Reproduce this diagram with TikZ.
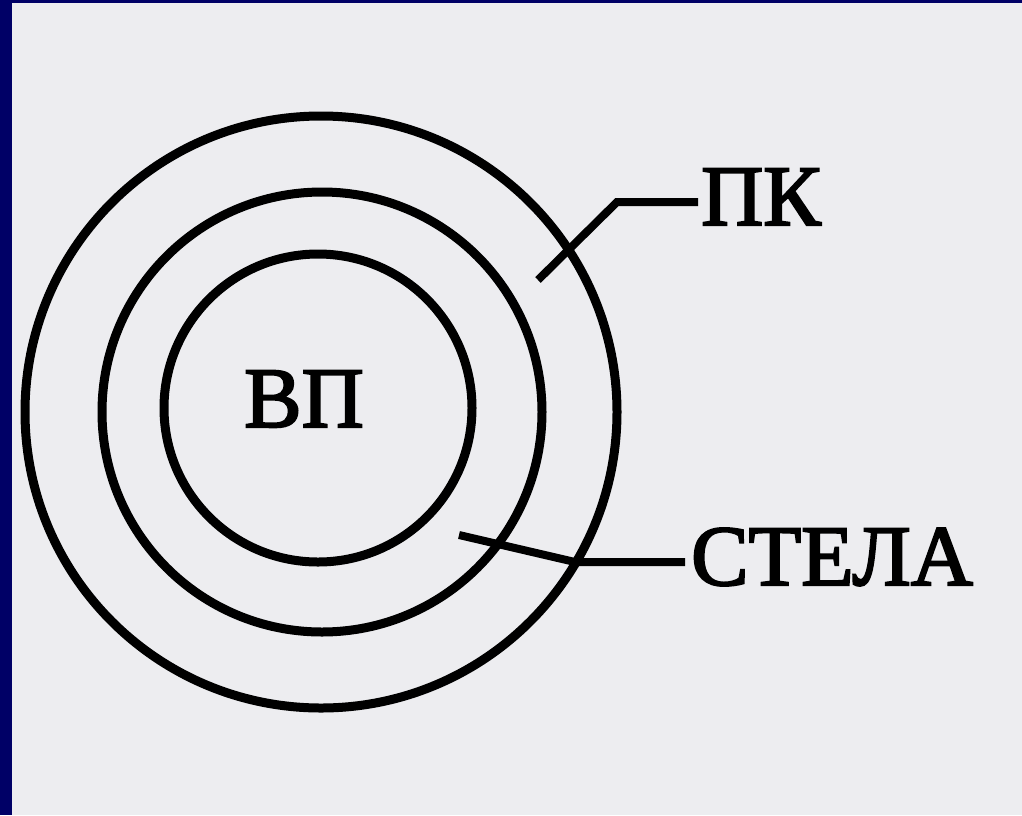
\documentclass[tikz,border=0pt]{standalone}
\usepackage{fontspec}
\setmainfont{Liberation Serif}
\newfontfamily\labelfont[FakeBold=2.5]{Liberation Serif}
\definecolor{frame}{HTML}{000066}
\definecolor{paper}{HTML}{EDEDF0}
\begin{document}
\begin{tikzpicture}[x=1pt,y=-1pt,
  ring/.style={draw=black,line width=9pt},
  leader/.style={draw=black,line width=8pt,line join=miter},
  lbl/.style={font=\labelfont\fontsize{86}{92}\selectfont,inner sep=0pt,text=black}]
  % frame and page
  \fill[frame] (0,0) rectangle (1022,815);
  \fill[paper] (12,3) rectangle (1022,815);
  \useasboundingbox (0,0) rectangle (1022,815);
  % concentric layers
  \draw[ring] (321,412) circle[radius=296];
  \draw[ring] (322,412) circle[radius=220];
  \draw[ring] (318,408) circle[radius=154];
  % labels
  \node[lbl,anchor=base] (vp) at (304,427) {ВП};
  \node[lbl,anchor=base west] (pk) at (701,225) {ПК};
  \node[lbl,anchor=base west] (stela) at (691,585) {СТЕЛА};
  % leader lines
  \coordinate (pkend) at (538,280);
  \coordinate (pkbend) at (617,202);
  \coordinate (stend) at (459,535);
  \coordinate (stbend) at (575,562);
  \draw[leader] (pkend) -- (pkbend) -- ([xshift=-3pt]pkbend -| pk.west);
  \draw[leader] (stend) -- (stbend) -- ([xshift=-6pt]stbend -| stela.west);
\end{tikzpicture}
\end{document}
